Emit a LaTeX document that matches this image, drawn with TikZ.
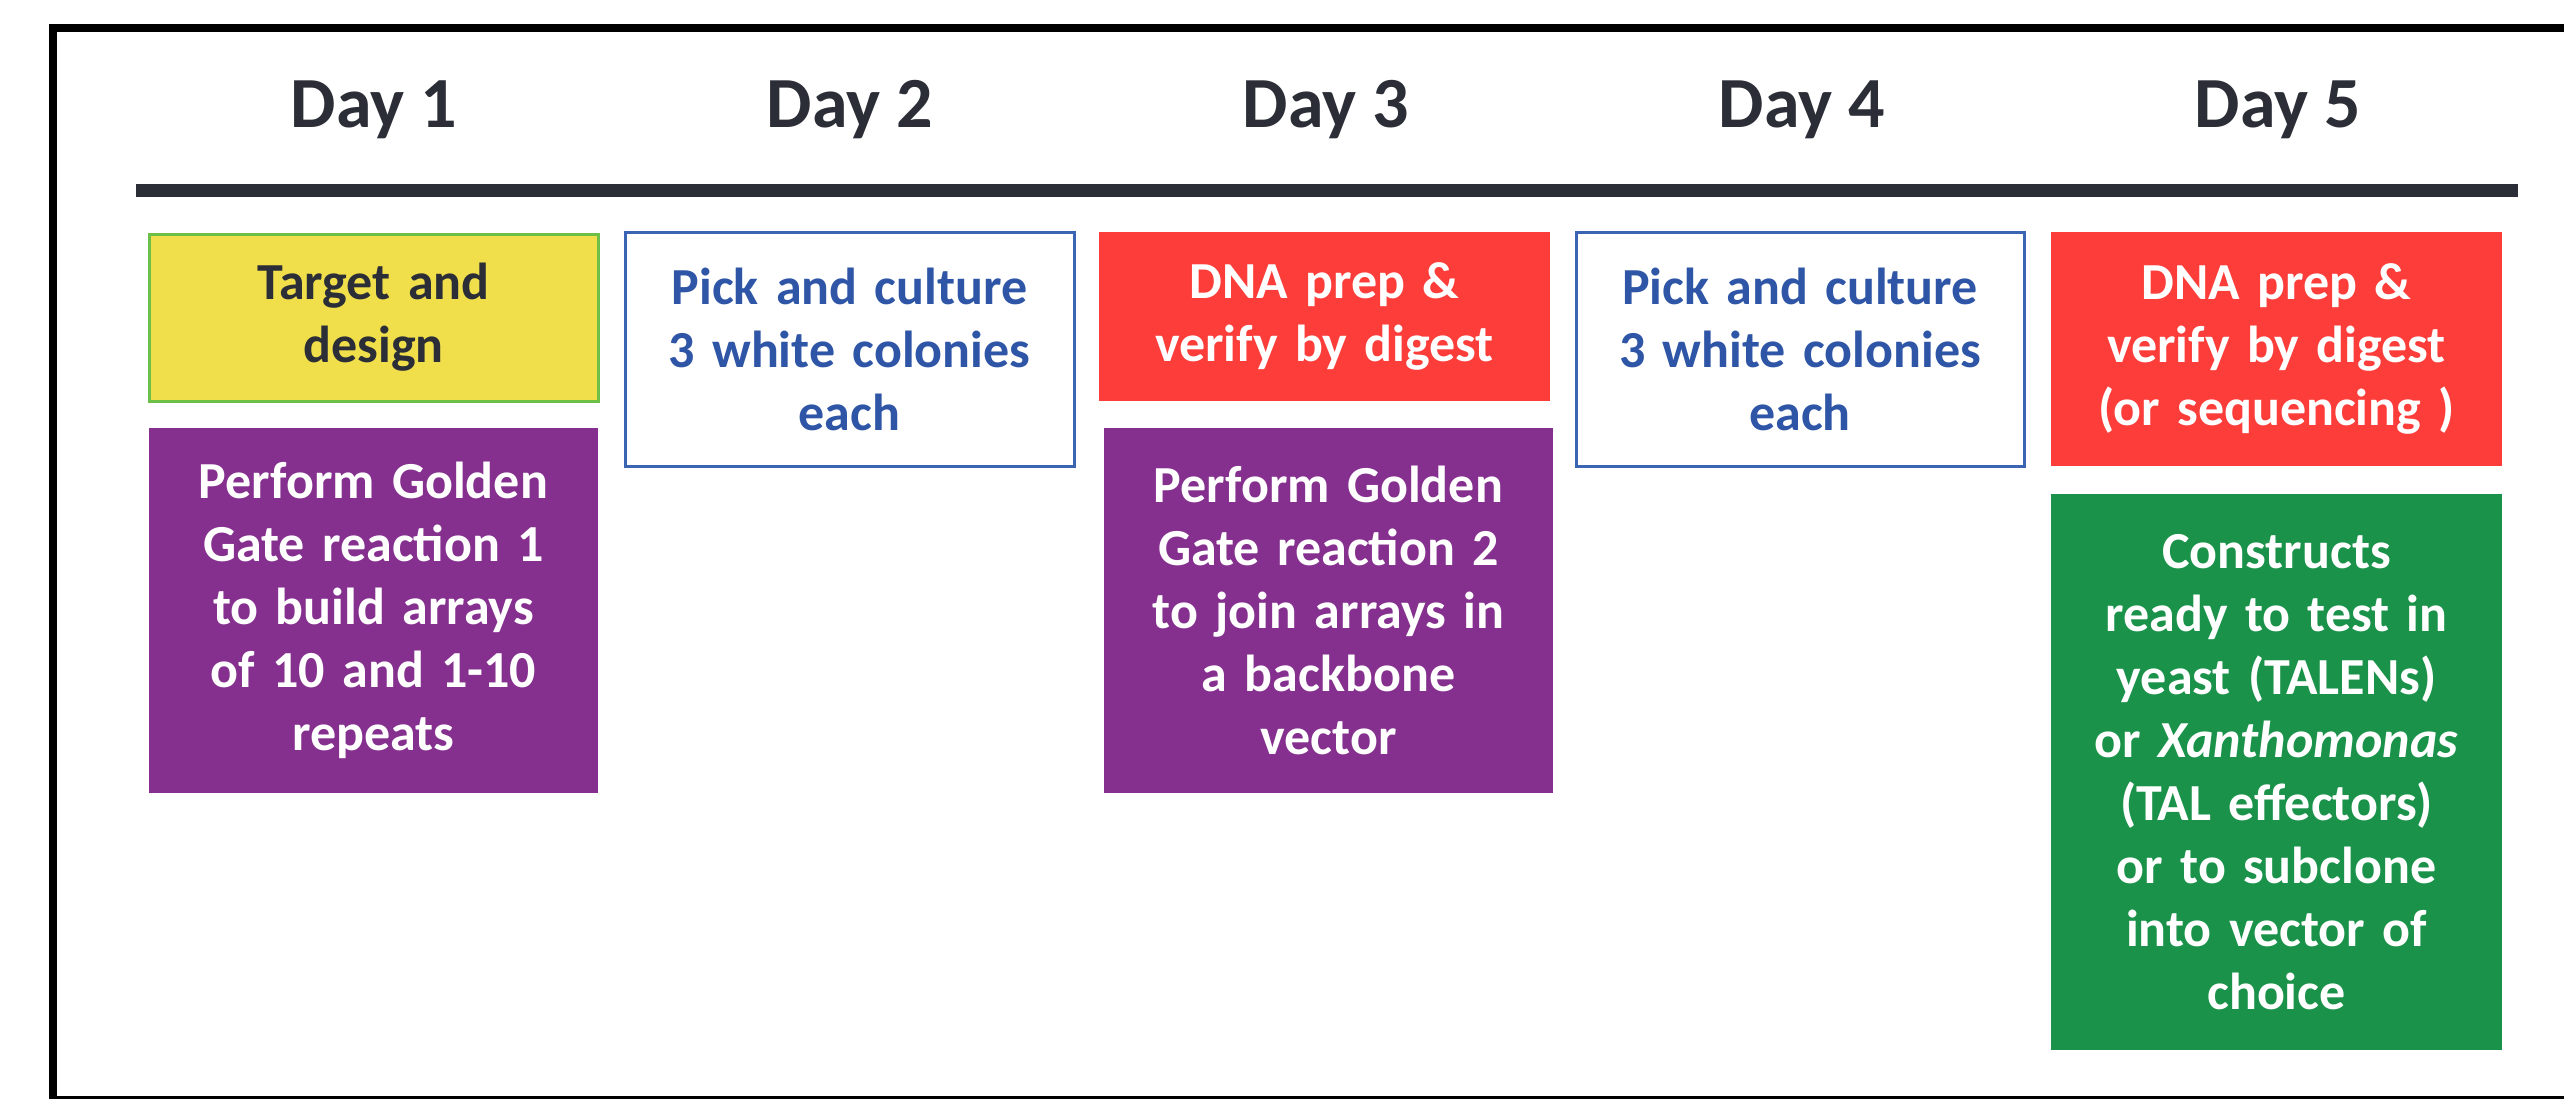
\documentclass[tikz,border=0pt]{standalone}
\usepackage{fontspec}
\setmainfont{Carlito}
\definecolor{daytext}{HTML}{2B2E36}
\definecolor{ybox}{HTML}{F0DF4B}
\definecolor{yborder}{HTML}{6CC04A}
\definecolor{pbox}{HTML}{85308E}
\definecolor{rbox}{HTML}{FC3D3A}
\definecolor{gbox}{HTML}{1A924A}
\definecolor{bborder}{HTML}{3B64B2}
\definecolor{btext}{HTML}{2E55A6}
\begin{document}
\begin{tikzpicture}[x=0.5pt,y=-0.5pt,
  daylabel/.style={anchor=base, inner sep=0pt, text=daytext, font=\bfseries\fontsize{36}{43}\selectfont},
  box/.style={rectangle, inner sep=0pt, align=center, font=\bfseries\fontsize{26}{31.5}\selectfont},
  yellowbox/.style={box, fill=ybox, draw=yborder, line width=1.5pt, text=daytext},
  purplebox/.style={box, fill=pbox, text=white},
  redbox/.style={box, fill=rbox, text=white},
  greenbox/.style={box, fill=gbox, text=white},
  whitebox/.style={box, fill=white, draw=bborder, line width=1.5pt, text=btext},
]
\useasboundingbox (0,0) rectangle (2564,1099);
% frame
\draw[line width=4pt] (49,28) -- (2564,28);
\draw[line width=4pt] (53,24) -- (53,1099);
\draw[line width=1.5pt] (49,1097) -- (2564,1097);
% day labels
\node[daylabel] (d1) at (374,127) {Day 1};
\node[daylabel] (d2) at (850,127) {Day 2};
\node[daylabel] (d3) at (1326,127) {Day 3};
\node[daylabel] (d4) at (1802,127) {Day 4};
\node[daylabel] (d5) at (2278,127) {Day 5};
% timeline rule
\draw[daytext, line width=6.5pt] (136,190) -- (2518,190);
% boxes
\node[yellowbox, text width=224.5pt, minimum height=83.5pt] (b1) at (373.5,317.5) {Target and\\design};
\node[purplebox, text width=224.5pt, minimum height=182.5pt] (b2) at (373.5,610.5) {Perform Golden\\Gate reaction 1\\to build arrays\\of 10 and 1-10\\repeats};
\node[whitebox, text width=224.5pt, minimum height=117pt] (b3) at (849.5,349) {Pick and culture\\3 white colonies\\each};
\node[redbox, text width=225.5pt, minimum height=84.5pt] (b4) at (1324.5,316.5) {DNA prep \&\\verify by digest};
\node[purplebox, text width=224.5pt, minimum height=182.5pt] (b5) at (1328.5,610.5) {Perform Golden\\Gate reaction 2\\to join arrays in\\a backbone\\vector};
\node[whitebox, text width=224pt, minimum height=117pt] (b6) at (1800,349) {Pick and culture\\3 white colonies\\each};
\node[redbox, text width=225.5pt, minimum height=117pt] (b7) at (2276.5,349) {DNA prep \&\\verify by digest\\(or sequencing )};
\node[greenbox, text width=225.5pt, minimum height=278pt] (b8) at (2276.5,772) {Constructs\\ready to test in\\yeast (TALENs)\\or \textit{Xanthomonas}\\(TAL effectors)\\or to subclone\\into vector of\\choice};
\end{tikzpicture}
\end{document}
